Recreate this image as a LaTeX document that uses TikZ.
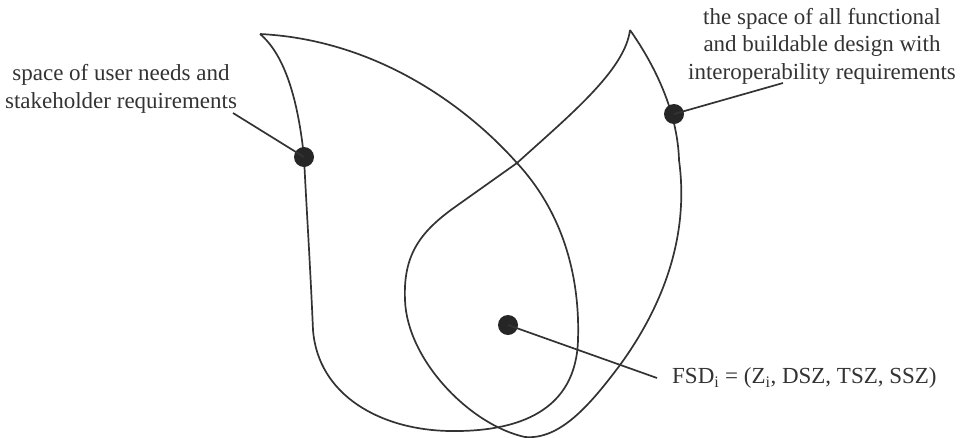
\documentclass[tikz,border=0pt]{standalone}
\usepackage{fontspec}
\setmainfont{Liberation Serif}
\begin{document}
\begin{tikzpicture}[x=1pt,y=-1pt,
  curve/.style={draw=black!80, line width=1.7pt},
  conn/.style={draw=black!80, line width=1.7pt},
  dot/.style={circle, fill=black!85, inner sep=0pt, minimum size=20pt},
  lbl/.style={text=black!80, align=center, font=\fontsize{23}{27.6}\selectfont, inner sep=0pt}]
\useasboundingbox (0,0) rectangle (972,437);
% left space
\draw[curve] (260,34) .. controls (380,40) and (470,110) .. (517,163)
  .. controls (565,215) and (580,280) .. (578,340)
  .. controls (576,410) and (520,432) .. (450,431)
  .. controls (380,430) and (318,395) .. (313,330)
  .. controls (310,260) and (306,200) .. (304,157)
  .. controls (298,100) and (285,55) .. (260,34);
% right space
\draw[curve] (630,30) .. controls (625,70) and (570,115) .. (517,163)
  -- (455,207) .. controls (420,232) and (403,255) .. (405,300)
  .. controls (407,360) and (470,425) .. (525,437)
  .. controls (560,440) and (590,405) .. (620,365)
  .. controls (660,310) and (690,240) .. (679,160)
  .. controls (678,125) and (665,80) .. (630,30);
% dots
\node[dot] (d1) at (304,157) {};
\node[dot] (d2) at (674,114) {};
\node[dot] (d3) at (508,325) {};
% labels
\node[lbl] (l1) at (121,89) {space of user needs and\\stakeholder requirements};
\node[lbl] (l2) at (822,46) {the space of all functional\\and buildable design with\\interoperability requirements};
\node[lbl, anchor=west] (l3) at (672,378) {FSD\textsubscript{i} = (Z\textsubscript{i}, DSZ, TSZ, SSZ)};
% connector ends
\coordinate (e1) at (233,113);
\coordinate (e2) at (783,83);
\coordinate (e3) at (657,378);
\draw[conn] (d1.center) -- (e1);
\draw[conn] (d2.center) -- (e2);
\draw[conn] (d3.center) -- (e3);
\end{tikzpicture}
\end{document}
